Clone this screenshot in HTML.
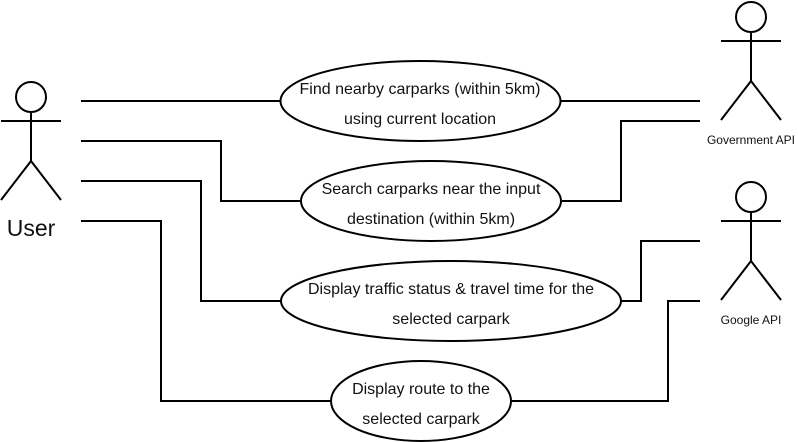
<!DOCTYPE html>
<html><head><meta charset="utf-8"><style>
html,body{margin:0;padding:0;background:#fff;}
svg{display:block;}
text{font-family:"Liberation Sans",Arial,sans-serif;fill:#111;}
</style></head><body>
<svg width="798" height="442" viewBox="0 0 798 442" xmlns="http://www.w3.org/2000/svg">
<g fill="none" stroke="#000" stroke-width="2">
<circle cx="31" cy="97" r="15" fill="#fff"/>
<line x1="31" y1="112" x2="31" y2="161"/>
<line x1="1" y1="121" x2="61" y2="121"/>
<line x1="31" y1="161" x2="1" y2="200"/>
<line x1="31" y1="161" x2="61" y2="200"/>
<circle cx="751" cy="17" r="15" fill="#fff"/>
<line x1="751" y1="32" x2="751" y2="81"/>
<line x1="721" y1="41" x2="781" y2="41"/>
<line x1="751" y1="81" x2="721" y2="120"/>
<line x1="751" y1="81" x2="781" y2="120"/>
<circle cx="751" cy="197" r="15" fill="#fff"/>
<line x1="751" y1="212" x2="751" y2="261"/>
<line x1="721" y1="221" x2="781" y2="221"/>
<line x1="751" y1="261" x2="721" y2="300"/>
<line x1="751" y1="261" x2="781" y2="300"/>
<polyline points="81,101 280,101"/>
<polyline points="81,141 221,141 221,201 301,201"/>
<polyline points="81,181 201,181 201,301 281,301"/>
<polyline points="81,221 161,221 161,401 331,401"/>
<polyline points="561,101 700,101"/>
<polyline points="700,121 621,121 621,201 561,201"/>
<polyline points="700,241 641,241 641,301 621,301"/>
<polyline points="700,301 668,301 668,401 511,401"/>
<ellipse cx="420.5" cy="101" rx="140" ry="40" fill="#fff"/>
<ellipse cx="431" cy="201" rx="130" ry="40" fill="#fff"/>
<ellipse cx="451" cy="301" rx="170" ry="40" fill="#fff"/>
<ellipse cx="421" cy="401" rx="90" ry="40" fill="#fff"/>
</g>
<g font-size="16" text-anchor="middle">
<text x="420" y="94">Find nearby carparks (within 5km)</text>
<text x="420" y="124">using current location</text>
<text x="431" y="194">Search carparks near the input</text>
<text x="431" y="224">destination (within 5km)</text>
<text x="451" y="294">Display traffic status &amp; travel time for the</text>
<text x="451" y="324">selected carpark</text>
<text x="421" y="394">Display route to the</text>
<text x="421" y="424">selected carpark</text>
</g>
<text x="31" y="236" font-size="23" text-anchor="middle">User</text>
<text x="751" y="144" font-size="12" text-anchor="middle">Government API</text>
<text x="751" y="324" font-size="12" text-anchor="middle">Google API</text>
</svg>
</body></html>
